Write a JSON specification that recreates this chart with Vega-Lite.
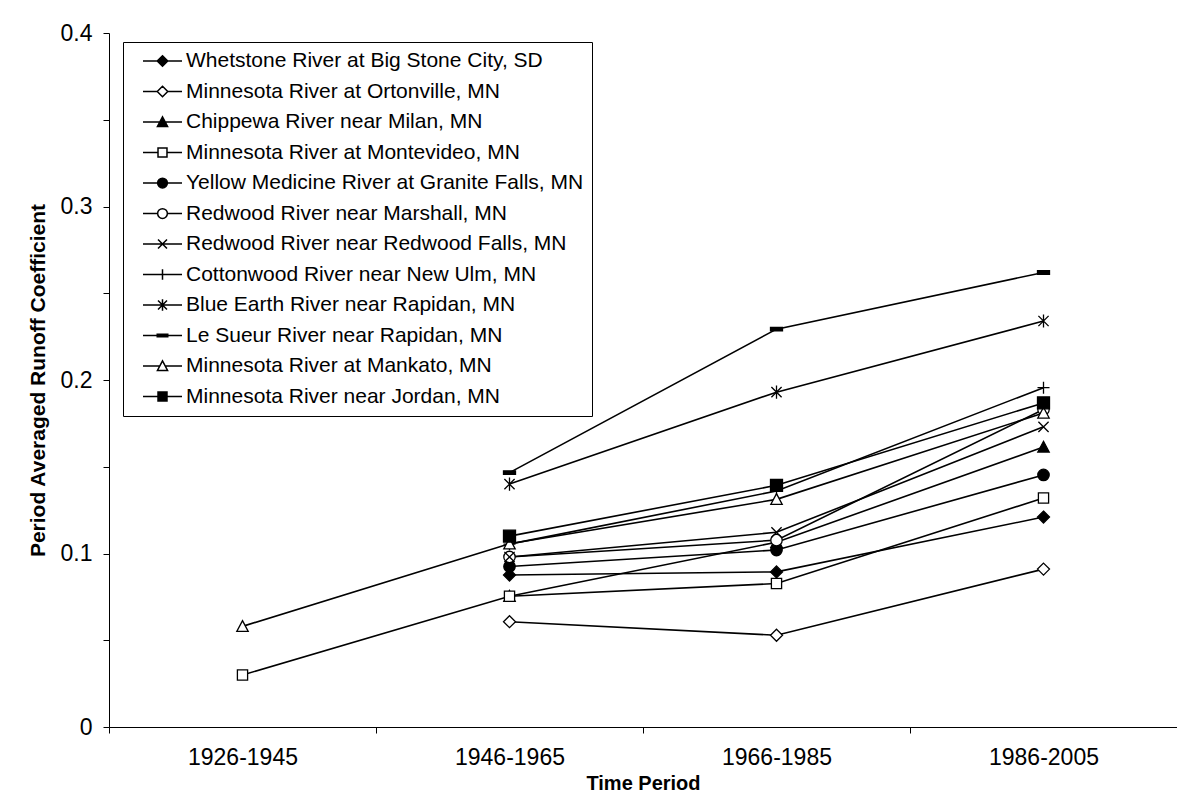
{
  "$schema": "https://vega.github.io/schema/vega-lite/v6.json",
  "autosize": {"type": "none"},
  "padding": {"left": 109, "top": 33, "right": 0, "bottom": 85},
  "width": 1068,
  "height": 694,
  "background": "white",
  "config": {
    "font": "Liberation Sans",
    "view": {"stroke": null},
    "axis": {
      "domainColor": "black",
      "tickColor": "black",
      "labelColor": "black",
      "titleColor": "black",
      "labelFont": "Liberation Sans",
      "titleFont": "Liberation Sans",
      "labelFontSize": 23,
      "titleFontSize": 21,
      "titleFontWeight": "bold",
      "tickSize": 6,
      "grid": false
    },
    "legend": {
      "orient": "none",
      "legendX": 14,
      "legendY": 9,
      "padding": 8,
      "rowPadding": 8.5,
      "clipHeight": 22,
      "symbolSize": 1521,
      "symbolStrokeWidth": 1.5,
      "symbolOffset": 11,
      "labelOffset": 3,
      "labelFont": "Liberation Sans",
      "labelFontSize": 21,
      "labelColor": "black",
      "labelLimit": 700,
      "strokeColor": "black",
      "fillColor": "white"
    }
  },
  "data": {
    "values": [
      {"station": "Whetstone River at Big Stone City, SD", "period": "1946-1965", "coef": 0.0876},
      {"station": "Whetstone River at Big Stone City, SD", "period": "1966-1985", "coef": 0.0894},
      {"station": "Whetstone River at Big Stone City, SD", "period": "1986-2005", "coef": 0.121},
      {"station": "Minnesota River at Ortonville, MN", "period": "1946-1965", "coef": 0.0607},
      {"station": "Minnesota River at Ortonville, MN", "period": "1966-1985", "coef": 0.0529},
      {"station": "Minnesota River at Ortonville, MN", "period": "1986-2005", "coef": 0.091},
      {"station": "Chippewa River near Milan, MN", "period": "1946-1965", "coef": 0.0754},
      {"station": "Chippewa River near Milan, MN", "period": "1966-1985", "coef": 0.1065},
      {"station": "Chippewa River near Milan, MN", "period": "1986-2005", "coef": 0.1614},
      {"station": "Minnesota River at Montevideo, MN", "period": "1926-1945", "coef": 0.030},
      {"station": "Minnesota River at Montevideo, MN", "period": "1946-1965", "coef": 0.0754},
      {"station": "Minnesota River at Montevideo, MN", "period": "1966-1985", "coef": 0.0827},
      {"station": "Minnesota River at Montevideo, MN", "period": "1986-2005", "coef": 0.132},
      {"station": "Yellow Medicine River at Granite Falls, MN", "period": "1946-1965", "coef": 0.0925},
      {"station": "Yellow Medicine River at Granite Falls, MN", "period": "1966-1985", "coef": 0.102},
      {"station": "Yellow Medicine River at Granite Falls, MN", "period": "1986-2005", "coef": 0.1453},
      {"station": "Redwood River near Marshall, MN", "period": "1946-1965", "coef": 0.098},
      {"station": "Redwood River near Marshall, MN", "period": "1966-1985", "coef": 0.1077},
      {"station": "Redwood River near Marshall, MN", "period": "1986-2005", "coef": 0.183},
      {"station": "Redwood River near Redwood Falls, MN", "period": "1946-1965", "coef": 0.098},
      {"station": "Redwood River near Redwood Falls, MN", "period": "1966-1985", "coef": 0.1122},
      {"station": "Redwood River near Redwood Falls, MN", "period": "1986-2005", "coef": 0.173},
      {"station": "Cottonwood River near New Ulm, MN", "period": "1946-1965", "coef": 0.1054},
      {"station": "Cottonwood River near New Ulm, MN", "period": "1966-1985", "coef": 0.136},
      {"station": "Cottonwood River near New Ulm, MN", "period": "1986-2005", "coef": 0.1956},
      {"station": "Blue Earth River near Rapidan, MN", "period": "1946-1965", "coef": 0.140},
      {"station": "Blue Earth River near Rapidan, MN", "period": "1966-1985", "coef": 0.193},
      {"station": "Blue Earth River near Rapidan, MN", "period": "1986-2005", "coef": 0.234},
      {"station": "Le Sueur River near Rapidan, MN", "period": "1946-1965", "coef": 0.1466},
      {"station": "Le Sueur River near Rapidan, MN", "period": "1966-1985", "coef": 0.2293},
      {"station": "Le Sueur River near Rapidan, MN", "period": "1986-2005", "coef": 0.262},
      {"station": "Minnesota River at Mankato, MN", "period": "1926-1945", "coef": 0.058},
      {"station": "Minnesota River at Mankato, MN", "period": "1946-1965", "coef": 0.1056},
      {"station": "Minnesota River at Mankato, MN", "period": "1966-1985", "coef": 0.1312},
      {"station": "Minnesota River at Mankato, MN", "period": "1986-2005", "coef": 0.181},
      {"station": "Minnesota River near Jordan, MN", "period": "1946-1965", "coef": 0.110},
      {"station": "Minnesota River near Jordan, MN", "period": "1966-1985", "coef": 0.1393},
      {"station": "Minnesota River near Jordan, MN", "period": "1986-2005", "coef": 0.1868}
    ]
  },
  "encoding": {
    "x": {
      "field": "period",
      "type": "ordinal",
      "bandPosition": 0.5,
      "scale": {"type": "band", "paddingInner": 0, "paddingOuter": 0, "domain": ["1926-1945", "1946-1965", "1966-1985", "1986-2005"]},
      "axis": {"title": "Time Period", "labelAngle": 0, "tickBand": "extent", "labelPadding": 13, "titlePadding": 4, "titleFontSize": 20}
    },
    "y": {
      "field": "coef",
      "type": "quantitative",
      "scale": {"domain": [0, 0.4], "nice": false, "zero": true},
      "axis": {
        "title": "Period Averaged Runoff Coefficient",
        "values": [0, 0.05, 0.1, 0.15, 0.2, 0.25, 0.3, 0.35, 0.4],
        "labelExpr": "round(datum.value * 100) % 10 === 0 ? format(datum.value, '.1~f') : ''",
        "labelPadding": 11,
        "titlePadding": 12
      }
    }
  },
  "layer": [
    {
      "mark": {"type": "line", "stroke": "black", "strokeWidth": 1.6},
      "encoding": {"detail": {"field": "station"}}
    },
    {
      "mark": {"type": "point", "filled": true, "stroke": "black", "strokeWidth": 1.3, "size": 144, "opacity": 1},
      "encoding": {
        "shape": {
          "condition": [
            {"test": "datum.station === 'Whetstone River at Big Stone City, SD'", "value": "M0,-1L1,0L0,1L-1,0Z"},
            {"test": "datum.station === 'Minnesota River at Ortonville, MN'", "value": "M0,-1L1,0L0,1L-1,0Z"},
            {"test": "datum.station === 'Chippewa River near Milan, MN'", "value": "M0,-0.95L0.95,0.85L-0.95,0.85Z"},
            {"test": "datum.station === 'Minnesota River at Montevideo, MN'", "value": "M-0.85,-0.85L0.85,-0.85L0.85,0.85L-0.85,0.85Z"},
            {"test": "datum.station === 'Yellow Medicine River at Granite Falls, MN'", "value": "M0.95,0A0.95,0.95,0,1,1,-0.95,0A0.95,0.95,0,1,1,0.95,0Z"},
            {"test": "datum.station === 'Redwood River near Marshall, MN'", "value": "M0.95,0A0.95,0.95,0,1,1,-0.95,0A0.95,0.95,0,1,1,0.95,0Z"},
            {"test": "datum.station === 'Redwood River near Redwood Falls, MN'", "value": "M-0.85,-0.85L0.85,0.85M-0.85,0.85L0.85,-0.85"},
            {"test": "datum.station === 'Cottonwood River near New Ulm, MN'", "value": "M-1,0L1,0M0,-1L0,1"},
            {"test": "datum.station === 'Blue Earth River near Rapidan, MN'", "value": "M-0.85,-0.85L0.85,0.85M-0.85,0.85L0.85,-0.85M0,-1.1L0,1.1"},
            {"test": "datum.station === 'Le Sueur River near Rapidan, MN'", "value": "M-1,-0.3L1,-0.3L1,0.3L-1,0.3Z"},
            {"test": "datum.station === 'Minnesota River at Mankato, MN'", "value": "M0,-0.95L0.95,0.85L-0.95,0.85Z"}
          ],
          "value": "M-1,-1L1,-1L1,1L-1,1Z"
        },
        "fill": {
          "condition": {
            "test": "indexof(['Minnesota River at Ortonville, MN', 'Minnesota River at Montevideo, MN', 'Redwood River near Marshall, MN', 'Redwood River near Redwood Falls, MN', 'Cottonwood River near New Ulm, MN', 'Blue Earth River near Rapidan, MN', 'Minnesota River at Mankato, MN'], datum.station) >= 0",
            "value": "white"
          },
          "value": "black"
        }
      }
    },
    {
      "transform": [{"filter": "false"}],
      "mark": {"type": "point", "filled": true, "stroke": "black", "strokeWidth": 1.5, "size": 1521, "opacity": 1},
      "encoding": {
        "shape": {
          "field": "station",
          "legend": {
            "title": null,
            "encode": {"symbols": {"stroke": {"value": "black"}, "strokeWidth": {"value": 1.5}, "size": {"value": 1521}, "opacity": {"value": 1}}}
          },
          "scale": {
            "domain": ["Whetstone River at Big Stone City, SD", "Minnesota River at Ortonville, MN", "Chippewa River near Milan, MN", "Minnesota River at Montevideo, MN", "Yellow Medicine River at Granite Falls, MN", "Redwood River near Marshall, MN", "Redwood River near Redwood Falls, MN", "Cottonwood River near New Ulm, MN", "Blue Earth River near Rapidan, MN", "Le Sueur River near Rapidan, MN", "Minnesota River at Mankato, MN", "Minnesota River near Jordan, MN"],
            "range": [
              "M-1,0L-0.27,0M0.27,0L1,0M0,-0.27L0.27,0L0,0.27L-0.27,0Z",
              "M-1,0L-0.27,0M0.27,0L1,0M0,-0.27L0.27,0L0,0.27L-0.27,0Z",
              "M-1,0L-0.14,0M0.14,0L1,0M0,-0.26L0.26,0.23L-0.26,0.23Z",
              "M-1,0L-0.23,0M0.23,0L1,0M-0.23,-0.23L0.23,-0.23L0.23,0.23L-0.23,0.23Z",
              "M-1,0L-0.25,0M0.25,0L1,0M0.25,0A0.25,0.25,0,1,1,-0.25,0A0.25,0.25,0,1,1,0.25,0Z",
              "M-1,0L-0.25,0M0.25,0L1,0M0.25,0A0.25,0.25,0,1,1,-0.25,0A0.25,0.25,0,1,1,0.25,0Z",
              "M-1,0L1,0M-0.23,-0.23L0.23,0.23M-0.23,0.23L0.23,-0.23",
              "M-1,0L1,0M0,-0.27L0,0.27",
              "M-1,0L1,0M-0.23,-0.23L0.23,0.23M-0.23,0.23L0.23,-0.23M0,-0.3L0,0.3",
              "M-1,0L1,0M-0.27,-0.07L0.27,-0.07L0.27,0.07L-0.27,0.07Z",
              "M-1,0L-0.14,0M0.14,0L1,0M0,-0.26L0.26,0.23L-0.26,0.23Z",
              "M-1,0L-0.23,0M0.23,0L1,0M-0.23,-0.23L0.23,-0.23L0.23,0.23L-0.23,0.23Z"
            ]
          }
        },
        "fill": {
          "field": "station",
          "legend": {
            "title": null,
            "encode": {"symbols": {"stroke": {"value": "black"}, "strokeWidth": {"value": 1.5}, "size": {"value": 1521}, "opacity": {"value": 1}}}
          },
          "scale": {
            "domain": ["Whetstone River at Big Stone City, SD", "Minnesota River at Ortonville, MN", "Chippewa River near Milan, MN", "Minnesota River at Montevideo, MN", "Yellow Medicine River at Granite Falls, MN", "Redwood River near Marshall, MN", "Redwood River near Redwood Falls, MN", "Cottonwood River near New Ulm, MN", "Blue Earth River near Rapidan, MN", "Le Sueur River near Rapidan, MN", "Minnesota River at Mankato, MN", "Minnesota River near Jordan, MN"],
            "range": ["black", "white", "black", "white", "black", "white", "white", "white", "white", "black", "white", "black"]
          }
        }
      }
    }
  ]
}
